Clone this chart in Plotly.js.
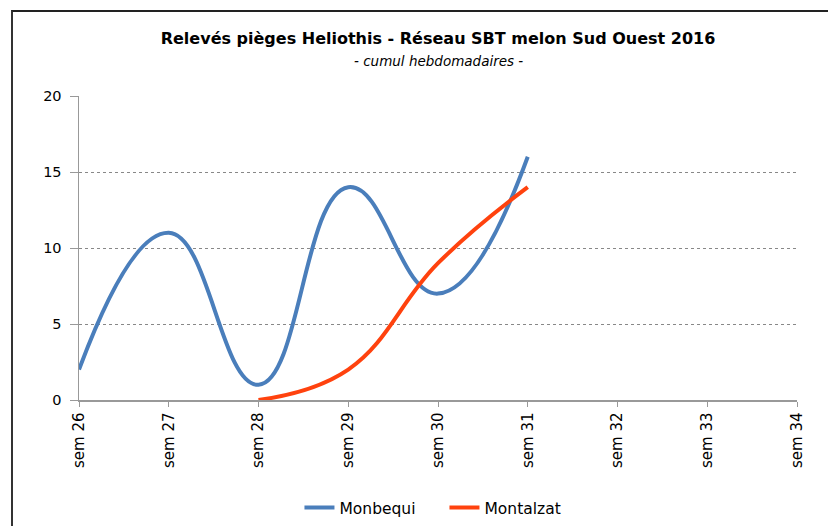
<!DOCTYPE html>
<html>
<head>
<meta charset="utf-8">
<script src="https://cdn.plot.ly/plotly-3.0.1.min.js"></script>
<style>
  html, body { margin: 0; padding: 0; background: #fff; }
  #wrap { position: absolute; left: 0; top: 0; width: 828px; height: 526px; }
  #frame { position: absolute; left: 11px; top: 10px; width: 817px; height: 516px;
           border-top: 2px solid #222; border-left: 2px solid #333; box-sizing: border-box; pointer-events: none; }
  #chart { position: absolute; left: 0; top: 0; width: 828px; height: 526px; }
</style>
</head>
<body>
<div id="wrap">
  <div id="chart"></div>
  <div id="frame"></div>
</div>
<script>
const categories = ["sem 26", "sem 27", "sem 28", "sem 29", "sem 30", "sem 31", "sem 32", "sem 33", "sem 34"];
const monbequi = [2, 11, 1, 14, 7, 16, null, null, null];
const montalzat = [null, null, 0, 2, 9, 14, null, null, null];
const yTicks = [0, 5, 10, 15, 20];

const font = "DejaVu Sans, Liberation Sans, sans-serif";

const traces = [
  {
    x: categories, y: monbequi, name: "Monbequi", type: "scatter", mode: "lines",
    line: { color: "#4a7ebb", width: 4, shape: "spline", smoothing: 1.3 },
    connectgaps: false
  },
  {
    x: categories, y: montalzat, name: "Montalzat", type: "scatter", mode: "lines",
    line: { color: "#ff420e", width: 4, shape: "spline", smoothing: 1.2 },
    connectgaps: false
  }
];

const layout = {
  width: 828, height: 526,
  margin: { l: 79, r: 31, t: 96, b: 126 },
  paper_bgcolor: "rgba(0,0,0,0)",
  plot_bgcolor: "rgba(0,0,0,0)",
  font: { family: font, size: 14, color: "#000" },
  title: {
    text: "<b>Relevés pièges Heliothis - Réseau SBT melon Sud Ouest 2016</b>",
    font: { family: font, size: 16, color: "#000" },
    x: 0.5, xref: "paper", xanchor: "center",
    y: 1 - 38 / 526, yref: "container", yanchor: "middle"
  },
  annotations: [{
    text: "<i>- cumul hebdomadaires -</i>",
    xref: "paper", x: 0.5, xanchor: "center",
    yref: "paper", y: (400 - 61) / 304, yanchor: "middle",
    showarrow: false,
    font: { family: font, size: 13.5, color: "#000" }
  }],
  xaxis: {
    type: "category",
    categoryarray: categories, categoryorder: "array",
    range: [0, categories.length - 1],
    tickangle: -90,
    ticks: "outside", ticklen: 5, tickcolor: "#999", tickwidth: 1,
    showline: true, linecolor: "#999", linewidth: 1.5,
    showgrid: false, zeroline: false,
    tickfont: { family: font, size: 15, color: "#000" },
    fixedrange: true
  },
  yaxis: {
    range: [0, 20],
    tickvals: yTicks,
    ticks: "outside", ticklen: 8, tickcolor: "#999", tickwidth: 1,
    ticklabelstandoff: 5,
    showline: true, linecolor: "#999", linewidth: 1.5,
    showgrid: true, gridcolor: "#888", gridwidth: 1, griddash: "3px,3px",
    zeroline: false,
    tickfont: { family: font, size: 14.5, color: "#000" },
    fixedrange: true
  },
  showlegend: true,
  legend: {
    orientation: "h",
    x: 0.509, xanchor: "center", xref: "paper",
    y: 1 - 508 / 526, yref: "container", yanchor: "middle",
    font: { family: font, size: 15.5, color: "#000" },
    entrywidth: 100, entrywidthmode: "pixels",
    bgcolor: "rgba(0,0,0,0)"
  }
};

Plotly.newPlot("chart", traces, layout, { displayModeBar: false, staticPlot: true });
</script>
</body>
</html>
